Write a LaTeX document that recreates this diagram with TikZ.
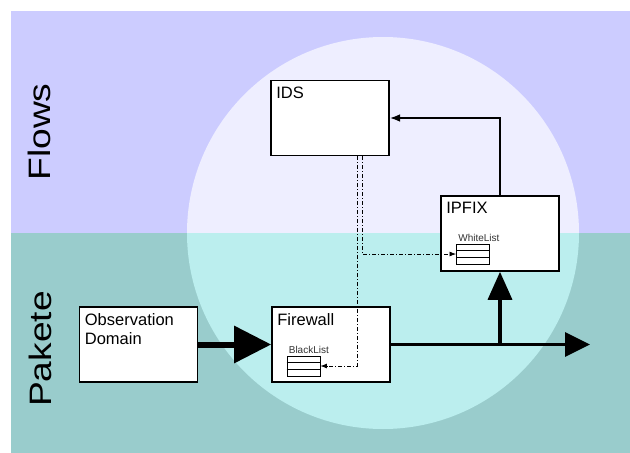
\documentclass[tikz,border=0pt]{standalone}
\usepackage{fontspec}
\setmainfont{Liberation Sans}
\usetikzlibrary{arrows.meta,positioning}
\tikzset{>=Latex}
\definecolor{clf}{HTML}{CCCCFF}
\definecolor{clfl}{HTML}{EEEEFF}
\definecolor{clp}{HTML}{99CCCC}
\definecolor{clpl}{HTML}{BBEEEE}
\definecolor{cltx}{gray}{.2}
\tikzset{
    unit/.style={draw, line width=1.6pt, fill=white, minimum width=118pt, minimum height=75pt, inner sep=0pt},
    unitname/.style={anchor=north west, inner xsep=6pt, inner ysep=7pt, align=left, font=\fontsize{16.5}{19}\selectfont},
    table/.style={draw, line width=.7pt, fill=white, minimum width=33pt, minimum height=20pt, inner sep=0pt},
    tablename/.style={anchor=south west, inner sep=2pt, font=\fontsize{10}{10}\selectfont, text=cltx},
    ctrl/.style={line width=.8pt, dash pattern=on 4pt off 2pt on 1pt off 2pt},
    layer/.style={rotate=90, font=\fontsize{31}{31}\selectfont}
}

\begin{document}
\begin{tikzpicture}[x=1pt, y=-1pt]
    \useasboundingbox(0, 0) rectangle (630, 453);
    % layers and the circle of the probe
    \fill[clf](11, 11) rectangle (630, 233);
    \fill[clp](11, 233) rectangle (630, 453);
    \begin{scope}
        \clip(0, 0) rectangle (630, 233);
        \fill[clfl](383, 233) circle (196);
    \end{scope}
    \begin{scope}
        \clip(0, 233) rectangle (630, 453);
        \fill[clpl](383, 233) circle (196);
    \end{scope}
    \node[layer](flows) at (39, 132){\scalebox{1.2}[1]{Flows}};
    \node[layer](pakete) at (40, 349){\scalebox{1.2}[1]{Pakete}};
    % units
    \node[unit, label={[unitname]north west:IDS}](ids) at (330, 118){};
    \node[unit, label={[unitname]north west:IPFIX}](ipfix) at (500, 233.5){};
    \node[unit, label={[unitname]north west:Firewall}](fw) at (331, 344.5){};
    \node[unit, label={[unitname]north west:Observation\\Domain}](obs) at (138.5, 344.5){};
    \node[table, label={[tablename]north west:WhiteList}](wl) at (473, 254){};
    \node[table, label={[tablename]north west:BlackList}](bl) at (303.5, 366){};
    \foreach \t in {wl, bl}{
        \draw[line width=.7pt]([yshift=3.33pt]\t.west)--([yshift=3.33pt]\t.east);
        \draw[line width=.7pt]([yshift=-3.33pt]\t.west)--([yshift=-3.33pt]\t.east);
    }
    % packet path
    \draw[line width=6pt, -{Triangle[length=37pt, width=36pt]}](obs.east)--(fw.west);
    \coordinate(out) at (590, 344.5);
    \draw[line width=3pt, -{Triangle[length=25pt, width=24pt]}](fw.east)--(out);
    \draw[line width=3.5pt, -{Triangle[length=28pt, width=24pt]}](fw.east -| ipfix.south)--(ipfix.south);
    % flow export and list updates
    \draw[line width=1.6pt, ->](ipfix.north) |- (ids.east);
    \draw[ctrl, ->]([xshift=27pt]ids.south) |- (bl.east);
    \draw[ctrl, ->]([xshift=32pt]ids.south) |- (wl.west);
\end{tikzpicture}
\end{document}
